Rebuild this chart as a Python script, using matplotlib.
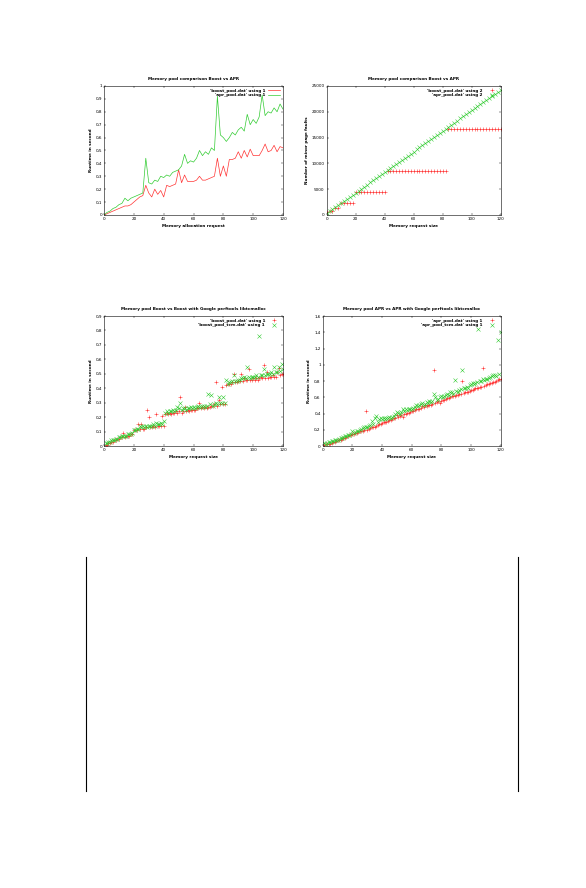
import matplotlib
matplotlib.use('Agg')
import matplotlib.pyplot as plt
from matplotlib.lines import Line2D
from matplotlib.ticker import FuncFormatter

# --- chart 1: runtime, line plot (x every 2 requests)
rt_x = list(range(0, 121, 2))
rt_boost = [0.0, 0.01, 0.02, 0.03, 0.04, 0.05, 0.06, 0.07, 0.07, 0.08,
            0.10, 0.12, 0.14, 0.15, 0.23, 0.17, 0.14, 0.20, 0.16, 0.19,
            0.14, 0.23, 0.22, 0.23, 0.24, 0.35, 0.25, 0.31, 0.26, 0.26,
            0.26, 0.27, 0.30, 0.27, 0.27, 0.28, 0.29, 0.30, 0.44, 0.30,
            0.38, 0.30, 0.43, 0.43, 0.44, 0.49, 0.44, 0.50, 0.45, 0.51,
            0.46, 0.46, 0.46, 0.50, 0.55, 0.49, 0.50, 0.54, 0.49, 0.53,
            0.52]
rt_apr = [0.0, 0.02, 0.03, 0.05, 0.06, 0.08, 0.09, 0.13, 0.11, 0.13,
          0.14, 0.15, 0.16, 0.17, 0.44, 0.25, 0.24, 0.27, 0.26, 0.30,
          0.29, 0.31, 0.30, 0.33, 0.34, 0.35, 0.38, 0.47, 0.40, 0.42,
          0.41, 0.44, 0.50, 0.46, 0.49, 0.47, 0.52, 0.50, 0.92, 0.62,
          0.60, 0.57, 0.60, 0.64, 0.62, 0.66, 0.68, 0.65, 0.78, 0.70,
          0.74, 0.71, 0.76, 0.93, 0.77, 0.80, 0.79, 0.83, 0.80, 0.86,
          0.82]

# --- chart 2: minor page faults (x every 2)
pf_x = list(range(0, 121, 2))
pf_boost = ([500, 800, 800, 1300, 1300] + [2300] * 5 + [4400] * 11
            + [8600] * 21 + [16700] * 19)
pf_apr = [300, 700, 1100, 1500, 1900, 2300, 2700, 3100, 3500, 3900,
          4300, 4700, 5100, 5500, 5900, 6300, 6700, 7100, 7500, 7900,
          8300, 8700, 9100, 9500, 9900, 10300, 10700, 11100, 11500, 11900,
          12300, 12700, 13100, 13500, 13900, 14300, 14700, 15100, 15500, 15900,
          16300, 16700, 17100, 17500, 17900, 18300, 18700, 19100, 19500, 19900,
          20300, 20700, 21100, 21500, 21900, 22300, 22700, 23100, 23500, 23900,
          24300]

# --- charts 3 and 4: request size 1..120
sz_x = list(range(1, 121))
boost_rt = [0.01, 0.01, 0.02, 0.02, 0.03, 0.03, 0.04, 0.04, 0.05, 0.05,
            0.06, 0.06, 0.09, 0.06, 0.07, 0.07, 0.07, 0.08, 0.08, 0.11,
            0.11, 0.11, 0.15, 0.12, 0.15, 0.12, 0.12, 0.13, 0.25, 0.20,
            0.13, 0.13, 0.14, 0.13, 0.22, 0.14, 0.14, 0.14, 0.21, 0.14,
            0.22, 0.23, 0.22, 0.23, 0.22, 0.23, 0.23, 0.24, 0.23, 0.24,
            0.34, 0.23, 0.24, 0.27, 0.24, 0.25, 0.24, 0.25, 0.25, 0.25,
            0.25, 0.26, 0.26, 0.30, 0.26, 0.27, 0.26, 0.27, 0.26, 0.27,
            0.27, 0.28, 0.28, 0.29, 0.44, 0.28, 0.32, 0.29, 0.41, 0.29,
            0.29, 0.42, 0.43, 0.43, 0.43, 0.44, 0.50, 0.44, 0.44, 0.45,
            0.45, 0.50, 0.45, 0.47, 0.46, 0.46, 0.53, 0.46, 0.46, 0.47,
            0.46, 0.47, 0.46, 0.47, 0.48, 0.47, 0.56, 0.47, 0.51, 0.47,
            0.48, 0.48, 0.49, 0.48, 0.48, 0.51, 0.54, 0.49, 0.50, 0.50]
boost_tcm_rt = [0.02, 0.02, 0.03, 0.03, 0.04, 0.04, 0.04, 0.05, 0.05, 0.06,
                0.06, 0.07, 0.07, 0.07, 0.07, 0.08, 0.08, 0.08, 0.09, 0.11,
                0.11, 0.12, 0.12, 0.14, 0.13, 0.14, 0.13, 0.14, 0.13, 0.14,
                0.14, 0.14, 0.15, 0.14, 0.16, 0.15, 0.15, 0.16, 0.15, 0.17,
                0.23, 0.24, 0.23, 0.24, 0.24, 0.25, 0.24, 0.25, 0.27, 0.26,
                0.30, 0.25, 0.26, 0.26, 0.25, 0.26, 0.26, 0.27, 0.26, 0.27,
                0.26, 0.27, 0.28, 0.27, 0.27, 0.28, 0.28, 0.27, 0.28, 0.36,
                0.29, 0.35, 0.28, 0.29, 0.30, 0.29, 0.34, 0.30, 0.30, 0.34,
                0.30, 0.46, 0.43, 0.44, 0.44, 0.45, 0.49, 0.45, 0.45, 0.46,
                0.46, 0.47, 0.47, 0.48, 0.47, 0.55, 0.48, 0.47, 0.48, 0.48,
                0.48, 0.49, 0.48, 0.76, 0.49, 0.49, 0.53, 0.49, 0.50, 0.50,
                0.50, 0.51, 0.50, 0.55, 0.51, 0.51, 0.55, 0.52, 0.57, 0.53]
apr_rt = [0.01, 0.02, 0.02, 0.03, 0.03, 0.04, 0.05, 0.05, 0.06, 0.07,
          0.07, 0.08, 0.09, 0.10, 0.10, 0.11, 0.12, 0.13, 0.13, 0.15,
          0.15, 0.16, 0.16, 0.17, 0.18, 0.18, 0.19, 0.20, 0.43, 0.20,
          0.21, 0.22, 0.23, 0.23, 0.24, 0.25, 0.26, 0.27, 0.27, 0.28,
          0.29, 0.29, 0.30, 0.31, 0.32, 0.32, 0.33, 0.34, 0.35, 0.38,
          0.36, 0.37, 0.38, 0.36, 0.39, 0.40, 0.41, 0.41, 0.42, 0.43,
          0.43, 0.44, 0.46, 0.45, 0.46, 0.47, 0.49, 0.48, 0.50, 0.49,
          0.50, 0.51, 0.51, 0.52, 0.93, 0.53, 0.54, 0.55, 0.53, 0.56,
          0.57, 0.57, 0.58, 0.59, 0.59, 0.60, 0.61, 0.61, 0.62, 0.63,
          0.63, 0.64, 0.64, 0.80, 0.65, 0.66, 0.67, 0.67, 0.68, 0.69,
          0.69, 0.70, 0.71, 0.71, 0.72, 0.73, 0.73, 0.96, 0.74, 0.75,
          0.76, 0.76, 0.77, 0.78, 0.79, 0.79, 0.80, 0.81, 0.82, 0.83]
apr_tcm_rt = [0.04, 0.03, 0.04, 0.05, 0.05, 0.06, 0.06, 0.07, 0.08, 0.08,
              0.09, 0.10, 0.10, 0.11, 0.12, 0.12, 0.13, 0.14, 0.15, 0.19,
              0.16, 0.17, 0.18, 0.19, 0.20, 0.21, 0.22, 0.23, 0.23, 0.24,
              0.25, 0.26, 0.31, 0.27, 0.35, 0.37, 0.29, 0.33, 0.34, 0.33,
              0.34, 0.33, 0.34, 0.35, 0.36, 0.34, 0.36, 0.37, 0.40, 0.42,
              0.41, 0.40, 0.42, 0.46, 0.43, 0.45, 0.44, 0.45, 0.46, 0.46,
              0.47, 0.48, 0.50, 0.49, 0.51, 0.52, 0.53, 0.50, 0.52, 0.54,
              0.53, 0.55, 0.54, 0.56, 0.64, 0.60, 0.57, 0.58, 0.60, 0.61,
              0.60, 0.62, 0.63, 0.64, 0.63, 0.66, 0.66, 0.64, 0.81, 0.68,
              0.67, 0.69, 0.70, 0.94, 0.71, 0.72, 0.73, 0.72, 0.75, 0.76,
              0.77, 0.76, 0.78, 0.79, 1.44, 0.80, 0.80, 0.82, 0.81, 0.82,
              0.83, 0.84, 0.85, 0.86, 0.87, 0.88, 0.86, 1.30, 0.89, 1.40]

RED = '#ff3333'
GREEN = '#33cc33'
FS = 3.0


def comma(v, pos):
    s = ('%.1f' % v).rstrip('0').rstrip('.')
    return s.replace('.', ',')


def style_axes(ax, title, xlabel, ylabel, ymax, ystep):
    ax.set_xlim(0, 120)
    ax.set_ylim(0, ymax)
    ax.set_xticks(range(0, 121, 20))
    n = int(round(ymax / ystep))
    ax.set_yticks([i * ystep for i in range(n + 1)])
    ax.set_title(title, fontsize=FS, pad=4, fontweight='bold')
    ax.set_xlabel(xlabel, fontsize=FS, labelpad=2, fontweight='bold')
    ax.set_ylabel(ylabel, fontsize=FS, labelpad=2, fontweight='bold')
    ax.tick_params(direction='in', length=1.5, width=0.3, labelsize=FS,
                   top=True, right=True, pad=1.5)
    for sp in ax.spines.values():
        sp.set_linewidth(0.4)
    leg = ax.legend(loc='upper right', fontsize=FS, frameon=False,
                    markerfirst=False, handlelength=3, borderpad=0.2,
                    labelspacing=0.1, handletextpad=0.6)
    for t in leg.get_texts():
        t.set_fontweight('bold')


fig = plt.figure(figsize=(5.86, 8.88), dpi=100)

ax1 = fig.add_axes([0.1775, 0.7579, 0.3055, 0.1453])
ax1.plot(rt_x, rt_boost, color=RED, lw=0.5, label="'boost_pool.dat' using 1")
ax1.plot(rt_x, rt_apr, color=GREEN, lw=0.5, label="'apr_pool.dat' using 1")
style_axes(ax1, 'Memory pool comparison Boost vs APR',
           'Memory allocation request', 'Runtime in second', 1.0, 0.1)
ax1.yaxis.set_major_formatter(FuncFormatter(comma))

ax2 = fig.add_axes([0.5575, 0.7579, 0.2969, 0.1453])
ax2.plot(pf_x, pf_boost, '+', color=RED, ms=3.2, mew=0.4,
         label="'boost_pool.dat' using 2")
ax2.plot(pf_x, pf_apr, 'x', color=GREEN, ms=3.0, mew=0.4,
         label="'apr_pool.dat' using 2")
style_axes(ax2, 'Memory pool comparison Boost vs APR',
           'Memory request size', 'Number of minor page faults', 25000, 5000)

ax3 = fig.add_axes([0.1775, 0.4977, 0.3055, 0.1464])
ax3.plot(sz_x, boost_rt, '+', color=RED, ms=3.2, mew=0.4,
         label="'boost_pool.dat' using 1")
ax3.plot(sz_x, boost_tcm_rt, 'x', color=GREEN, ms=2.8, mew=0.4,
         label="'boost_pool_tcm.dat' using 1")
style_axes(ax3, 'Memory pool Boost vs Boost with Google perftools libtcmalloc',
           'Memory request size', 'Runtime in second', 0.9, 0.1)
ax3.yaxis.set_major_formatter(FuncFormatter(comma))

ax4 = fig.add_axes([0.5507, 0.4977, 0.3037, 0.1464])
ax4.plot(sz_x, apr_rt, '+', color=RED, ms=3.2, mew=0.4,
         label="'apr_pool.dat' using 1")
ax4.plot(sz_x, apr_tcm_rt, 'x', color=GREEN, ms=2.8, mew=0.4,
         label="'apr_pool_tcm.dat' using 1")
style_axes(ax4, 'Memory pool APR vs APR with Google perftools libtcmalloc',
           'Memory request size', 'Runtime in second', 1.6, 0.2)
ax4.yaxis.set_major_formatter(FuncFormatter(comma))

# table borders at the bottom of the page
W, H = 586.0, 888.0
for x in (86, 518):
    for y0, y1 in ((557, 705), (706, 791)):
        fig.add_artist(Line2D([x / W, x / W], [1 - y0 / H, 1 - y1 / H],
                              color='black', lw=0.8))

fig.savefig('out.png', dpi=100)
